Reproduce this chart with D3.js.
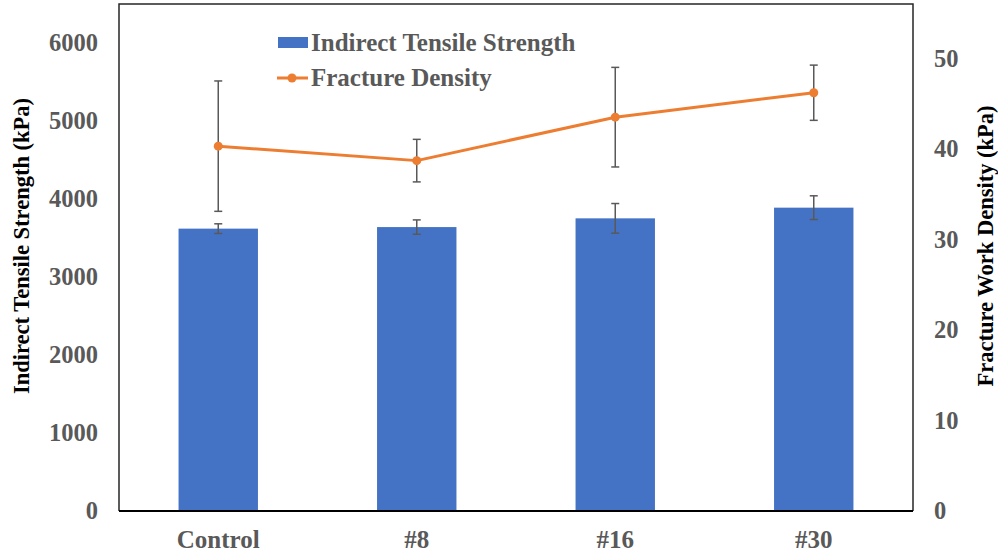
<!DOCTYPE html>
<html>
<head>
<meta charset="utf-8">
<script src="https://cdn.jsdelivr.net/npm/d3@7"></script>
<style>
  html, body { margin: 0; padding: 0; background: #fff; }
  svg { display: block; }
  svg text { font-family: "Liberation Serif", "Times New Roman", Times, serif !important; font-weight: bold; }
</style>
</head>
<body>
<svg id="chart" width="998" height="556"></svg>
<script>
// ---- data ----
const categories = ["Control", "#8", "#16", "#30"];
const tensileStrength = [3620, 3640, 3752, 3889];
const tensileError = [62, 92, 190, 152];
const fractureDensity = [40.3, 38.7, 43.5, 46.2];
const fractureError = [7.2, 2.35, 5.5, 3.05];
const leftTicks = [0, 1000, 2000, 3000, 4000, 5000, 6000];
const rightTicks = [0, 10, 20, 30, 40, 50];
const seriesNames = ["Indirect Tensile Strength", "Fracture Density"];
const leftTitle = "Indirect Tensile Strength (kPa)";
const rightTitle = "Fracture Work Density (kPa)";

// ---- layout ----
const W = 998, H = 556;
const m = { left: 119, right: 998 - 913, top: 4, bottom: 556 - 511 };
const iw = W - m.left - m.right, ih = H - m.top - m.bottom;
const blue = "#4472C4", orange = "#ED7D31", gray = "#595959";
const FONT = '"Liberation Serif", "Times New Roman", Times, serif';

const svg = d3.select("#chart");
const g = svg.append("g").attr("transform", `translate(${m.left},${m.top})`);

const x = d3.scaleBand().domain(categories).range([0, iw]).paddingInner(0.6).paddingOuter(0.3);
const xc = d => x(d) + x.bandwidth() / 2;
const yL = d3.scaleLinear().domain([0, 6500]).range([ih, 0]);
const yR = d3.scaleLinear().domain([0, 56]).range([ih, 0]);

// bars
g.selectAll("rect.bar").data(categories).enter().append("rect")
  .attr("class", "bar")
  .attr("x", d => x(d))
  .attr("width", x.bandwidth())
  .attr("y", (d, i) => yL(tensileStrength[i]))
  .attr("height", (d, i) => ih - yL(tensileStrength[i]))
  .attr("fill", blue);

// error bar helper
function errBars(vals, errs, scale) {
  const cap = 4;
  categories.forEach((c, i) => {
    const cx = xc(c), y1 = scale(vals[i] + errs[i]), y2 = scale(vals[i] - errs[i]);
    const eg = g.append("g").attr("stroke", gray).attr("stroke-width", 1.5).attr("fill", "none");
    eg.append("line").attr("x1", cx).attr("x2", cx).attr("y1", y1).attr("y2", y2);
    eg.append("line").attr("x1", cx - cap).attr("x2", cx + cap).attr("y1", y1).attr("y2", y1);
    eg.append("line").attr("x1", cx - cap).attr("x2", cx + cap).attr("y1", y2).attr("y2", y2);
  });
}
errBars(tensileStrength, tensileError, yL);

// line
const line = d3.line().x((d, i) => xc(categories[i])).y(d => yR(d));
g.append("path").datum(fractureDensity)
  .attr("d", line).attr("fill", "none").attr("stroke", orange).attr("stroke-width", 3)
  .attr("stroke-linejoin", "round");
errBars(fractureDensity, fractureError, yR);
g.selectAll("circle.pt").data(fractureDensity).enter().append("circle")
  .attr("class", "pt")
  .attr("cx", (d, i) => xc(categories[i]))
  .attr("cy", d => yR(d))
  .attr("r", 4.5).attr("fill", orange);

// frame
g.append("path")
  .attr("d", `M0,${ih} L0,0 L${iw},0 L${iw},${ih}`)
  .attr("fill", "none").attr("stroke", "#262626").attr("stroke-width", 1.5);
g.append("line").attr("x1", 0).attr("x2", iw).attr("y1", ih).attr("y2", ih)
  .attr("stroke", "#000").attr("stroke-width", 2);

function styleAxis(ax, size) {
  ax.attr("font-family", FONT).attr("font-size", size);
  ax.select(".domain").remove();
  ax.selectAll("text").attr("fill", gray).style("font-size", size + "px")
    .style("font-family", FONT).style("font-weight", "bold");
}

// axes
const fmt = d3.format("d");
const axL = g.append("g").call(d3.axisLeft(yL).tickValues(leftTicks).tickFormat(fmt).tickSize(0).tickPadding(21));
styleAxis(axL, 24.5);

const axR = g.append("g").attr("transform", `translate(${iw},0)`)
  .call(d3.axisRight(yR).tickValues(rightTicks).tickFormat(fmt).tickSize(0).tickPadding(21));
styleAxis(axR, 24.5);

const axB = g.append("g").attr("transform", `translate(0,${ih})`)
  .call(d3.axisBottom(x).tickSize(0).tickPadding(19));
styleAxis(axB, 25);

// axis titles
svg.append("text")
  .attr("transform", `translate(29,246) rotate(-90)`)
  .attr("text-anchor", "middle").attr("fill", "#000").style("font-size", "22.5px")
  .text(leftTitle);
svg.append("text")
  .attr("transform", `translate(993,246) rotate(-90)`)
  .attr("text-anchor", "middle").attr("fill", "#000").style("font-size", "22.5px")
  .text(rightTitle);

// legend
const lg = svg.append("g");
lg.append("rect").attr("x", 278).attr("y", 37).attr("width", 30).attr("height", 11).attr("fill", blue);
lg.append("text").attr("x", 311).attr("y", 51).attr("fill", gray).style("font-size", "25px").text(seriesNames[0]);
lg.append("line").attr("x1", 277).attr("x2", 308).attr("y1", 78).attr("y2", 78)
  .attr("stroke", orange).attr("stroke-width", 3);
lg.append("circle").attr("cx", 292).attr("cy", 78).attr("r", 4.5).attr("fill", orange);
lg.append("text").attr("x", 311).attr("y", 86).attr("fill", gray).style("font-size", "25px").text(seriesNames[1]);
</script>
</body>
</html>
